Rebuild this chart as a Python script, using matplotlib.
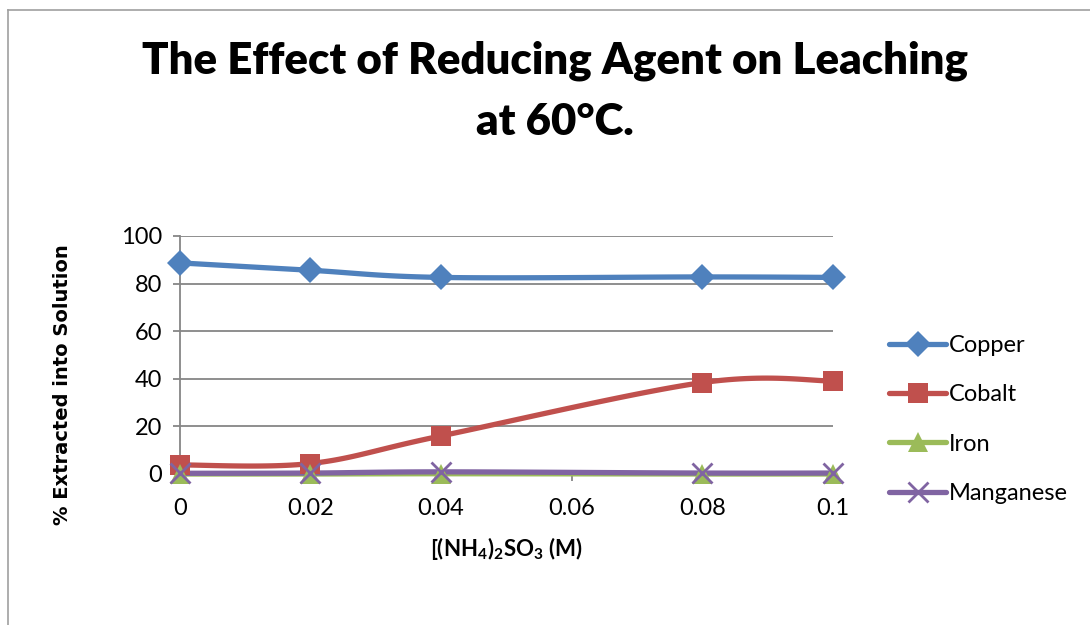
import numpy as np
import matplotlib.pyplot as plt
from matplotlib.lines import Line2D

# concentration of (NH4)2SO3 in M
conc = [0, 0.02, 0.04, 0.08, 0.1]
copper = [88.7, 85.6, 82.6, 82.8, 82.6]
cobalt = [3.8, 4.4, 16.0, 38.4, 39.1]
iron = [0.0, 0.0, 0.1, 0.0, 0.0]
manganese = [0.3, 0.4, 0.9, 0.4, 0.4]

names = ['Copper', 'Cobalt', 'Iron', 'Manganese']
colors = ['#4F81BD', '#C0504D', '#9BBB59', '#8064A2']
markers = ['D', 's', '^', 'x']
msizes = [13, 14, 14, 14]

xticks = [0, 0.02, 0.04, 0.06, 0.08, 0.1]
xtick_labels = ['0', '0.02', '0.04', '0.06', '0.08', '0.1']
yticks = [0, 20, 40, 60, 80, 100]


def smooth(x, y, n=30):
    # excel-like smoothed line (catmull-rom bezier)
    p = np.column_stack([x, y]).astype(float)
    out = []
    for i in range(len(p) - 1):
        p0 = p[i - 1] if i > 0 else p[i]
        p1, p2 = p[i], p[i + 1]
        p3 = p[i + 2] if i + 2 < len(p) else p[i + 1]
        c1 = p1 + (p2 - p0) / 6
        c2 = p2 - (p3 - p1) / 6
        t = np.linspace(0, 1, n)[:, None]
        seg = ((1 - t) ** 3) * p1 + 3 * ((1 - t) ** 2) * t * c1 + 3 * (1 - t) * t ** 2 * c2 + t ** 3 * p2
        out.append(seg if i == 0 else seg[1:])
    s = np.vstack(out)
    return s[:, 0], s[:, 1]


plt.rcParams['font.family'] = ['Lato', 'DejaVu Sans']
plt.rcParams['mathtext.fontset'] = 'custom'
plt.rcParams['mathtext.bf'] = 'Lato:bold'
plt.rcParams['mathtext.rm'] = 'Lato'
plt.rcParams['mathtext.default'] = 'bf'

fig = plt.figure(figsize=(10.9, 6.25), dpi=100)
ax = fig.add_axes([0.165, 0.2416, 0.599, 0.3808])

series = [copper, cobalt, iron, manganese]
handles = []
for name, vals, c, m, ms in zip(names, series, colors, markers, msizes):
    sx, sy = smooth(conc, vals)
    ax.plot(sx, sy, color=c, lw=3.8, solid_capstyle='round', clip_on=False, zorder=3)
    ax.plot(conc, vals, ls='none', marker=m, ms=ms, color=c, mew=2 if m == 'x' else 0,
            clip_on=False, zorder=4)
    handles.append(Line2D([], [], color=c, lw=3.8, marker=m, ms=ms,
                          mew=2 if m == 'x' else 0, solid_capstyle='round'))

ax.set_xlim(0, 0.1)
ax.set_ylim(0, 100)
ax.set_xticks(xticks)
ax.set_xticklabels(xtick_labels)
ax.set_yticks(yticks)
ax.grid(axis='y', color='#868686', lw=1.3)
ax.set_axisbelow(True)
for s in ['top', 'right', 'bottom']:
    ax.spines[s].set_visible(False)
ax.spines['left'].set_color('#868686')
ax.spines['left'].set_linewidth(1.3)
ax.tick_params(axis='both', colors='#868686', labelcolor='black', labelsize=17, length=5, width=1.3)
ax.tick_params(axis='x', pad=12)
ax.tick_params(axis='y', pad=8)

ax.set_xlabel(r'[(NH$_4$)$_2$SO$_3$ (M)', fontsize=16, fontweight='bold', labelpad=12)
fig.text(0.057, 0.385, '% Extracted into Solution', rotation=90, ha='center', va='center',
         fontsize=14, fontweight='bold', family='DejaVu Sans')

fig.text(0.509, 0.903, 'The Effect of Reducing Agent on Leaching', ha='center', va='center',
         fontsize=31.5, fontweight='heavy')
fig.text(0.509, 0.805, 'at 60°C.', ha='center', va='center', fontsize=31.5, fontweight='heavy')

fig.legend(handles, names, loc='upper left', bbox_to_anchor=(0.816, 1 - 335 / 625), frameon=False,
           fontsize=17, handlelength=2.4, handletextpad=0.1, labelspacing=1.2,
           borderaxespad=0, borderpad=0, numpoints=1)

# chart area border
fig.add_artist(Line2D([8 / 1090, 8 / 1090], [0, 1 - 10 / 625], color='#A0A0A0', lw=1.2))
fig.add_artist(Line2D([8 / 1090, 1], [1 - 10 / 625, 1 - 10 / 625], color='#A0A0A0', lw=1.2))

fig.savefig('out.png', dpi=100)
